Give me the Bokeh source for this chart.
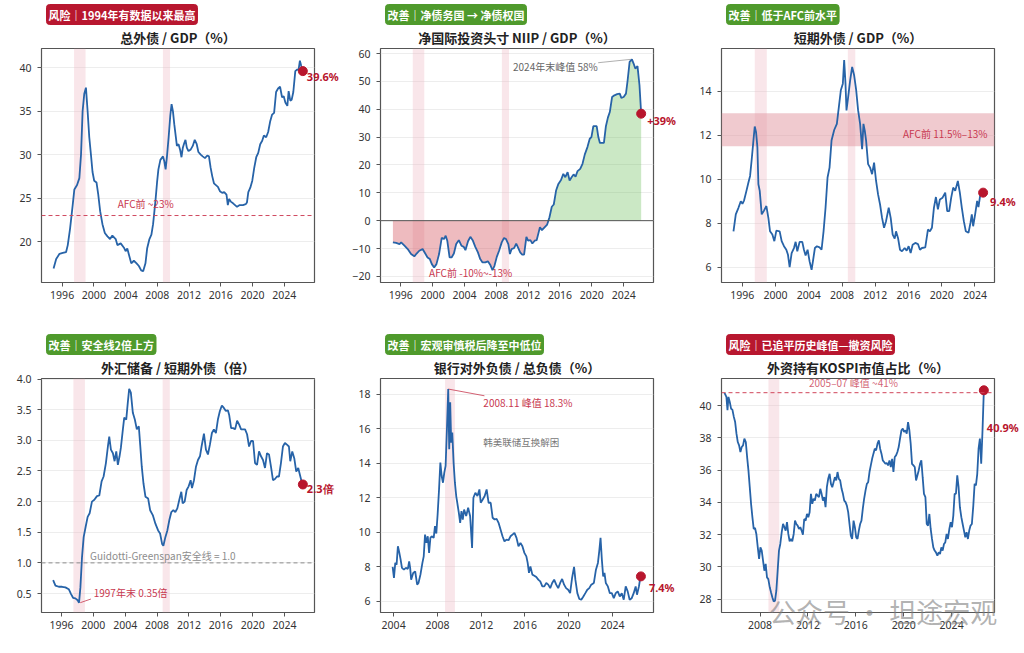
from bokeh.plotting import figure
from bokeh.models import Range1d, FixedTicker, PrintfTickFormatter, BoxAnnotation, Span, Label, Title
from bokeh.layouts import row, column
from bokeh.embed import file_html
from bokeh.resources import INLINE

# ---------------- data ----------------
CRISES = [(1997.5, 1998.95), (2008.7, 2009.6)]

# 1 total external debt / GDP (%)
ted_x = [1994.92, 1995.25, 1995.67, 1996.08, 1996.5, 1996.71, 1997.0, 1997.33, 1997.54, 1997.88,
         1998.17, 1998.38, 1998.58, 1998.79, 1999.0, 1999.21, 1999.42, 1999.63, 1999.83, 2000.04,
         2000.33, 2000.54, 2000.79, 2001.08, 2001.38, 2001.71, 2002.04, 2002.33, 2002.75, 2002.96,
         2003.38, 2003.79, 2004.0, 2004.21, 2004.42, 2004.71, 2005.04, 2005.38, 2005.67, 2005.96,
         2006.21, 2006.5, 2006.71, 2007.0, 2007.25, 2007.46, 2007.63, 2007.79, 2007.96, 2008.13,
         2008.38, 2008.71, 2008.88, 2009.04, 2009.21, 2009.42, 2009.63, 2009.79, 2009.96, 2010.13,
         2010.33, 2010.46, 2010.67, 2010.88, 2011.04, 2011.21, 2011.38, 2011.54, 2011.71, 2011.92,
         2012.21, 2012.46, 2012.71, 2012.96, 2013.17, 2013.46, 2013.71, 2014.0, 2014.29, 2014.5,
         2014.71, 2014.92, 2015.13, 2015.38, 2015.63, 2015.88, 2016.17, 2016.42, 2016.71, 2016.88,
         2017.04, 2017.25, 2017.54, 2017.79, 2018.04, 2018.38, 2018.79, 2019.13, 2019.29, 2019.46,
         2019.71, 2019.96, 2020.21, 2020.46, 2020.71, 2020.96, 2021.21, 2021.42, 2021.71, 2021.96,
         2022.21, 2022.46, 2022.71, 2022.96, 2023.21, 2023.46, 2023.71, 2023.92, 2024.13, 2024.38,
         2024.54, 2024.75, 2024.92, 2025.13, 2025.38, 2025.63, 2025.79, 2025.96, 2026.13, 2026.33]
ted_v = [16.9, 18.0, 18.6, 18.7, 18.8, 19.6, 21.5, 24.2, 26.0, 26.5,
         27.3, 30.0, 35.0, 37.0, 37.7, 35.0, 32.0, 30.0, 28.0, 27.0,
         26.8, 25.5, 23.5, 22.0, 21.0, 20.6, 20.3, 20.7, 20.3, 19.6,
         19.8, 19.3, 18.9, 19.2, 18.5, 17.5, 17.8, 17.5, 17.2, 16.7,
         16.6, 17.5, 19.2, 20.3, 20.8, 22.0, 23.5, 25.0, 26.8, 28.3,
         29.4, 29.8, 29.2, 28.3, 29.8, 32.0, 34.5, 35.8, 35.0, 33.5,
         32.0, 31.0, 31.2, 30.5, 29.7, 30.8, 31.3, 31.7, 30.8, 30.4,
         30.6, 31.0, 31.7, 31.2, 30.3, 30.0, 29.8, 29.6, 29.9, 29.8,
         28.5, 27.5, 26.7, 26.5, 26.3, 25.8, 25.6, 25.7, 25.4, 24.2,
         24.9, 24.6, 24.4, 24.2, 24.0, 24.2, 24.2, 24.3, 24.5, 25.7,
         26.2, 27.0, 28.5, 29.7, 30.2, 31.2, 31.6, 32.2, 32.0, 32.6,
         33.8, 34.6, 34.8, 37.2, 37.6, 37.8, 36.6, 36.7, 36.0, 35.6,
         37.3, 36.2, 36.3, 37.2, 39.6, 39.8, 39.7, 40.8, 40.2, 39.6]
TED_AFC = 23.0

# 2 NIIP / GDP (%)
niip_x = [1995.01, 1995.42, 1995.84, 1996.04, 1996.46, 1996.87, 1997.29, 1997.70, 1997.99, 1998.32,
          1998.74, 1999.07, 1999.36, 1999.65, 1999.90, 2000.19, 2000.48, 2000.81, 2001.14, 2001.43,
          2001.64, 2001.84, 2002.13, 2002.38, 2002.67, 2002.96, 2003.29, 2003.62, 2003.91, 2004.12,
          2004.45, 2004.74, 2005.03, 2005.36, 2005.69, 2005.98, 2006.27, 2006.61, 2006.94, 2007.23,
          2007.52, 2007.77, 2008.06, 2008.35, 2008.68, 2008.97, 2009.22, 2009.51, 2009.71, 2009.92,
          2010.25, 2010.50, 2010.75, 2011.00, 2011.25, 2011.49, 2011.78, 2011.99, 2012.28, 2012.53,
          2012.82, 2013.07, 2013.32, 2013.48, 2013.73, 2014.06, 2014.39, 2014.68, 2014.97, 2015.22,
          2015.51, 2015.80, 2016.13, 2016.42, 2016.67, 2016.96, 2017.21, 2017.46, 2017.71, 2017.96,
          2018.21, 2018.54, 2018.83, 2019.12, 2019.45, 2019.74, 2019.95, 2020.19, 2020.61, 2020.82,
          2021.02, 2021.52, 2021.77, 2022.02, 2022.26, 2022.55, 2022.84, 2023.18, 2023.51, 2023.71,
          2024.00, 2024.29, 2024.50, 2024.75, 2025.04, 2025.25, 2025.46, 2025.74, 2025.99, 2026.20]
niip_v = [-7.8, -8.0, -8.4, -7.8, -9.0, -10.2, -12.0, -12.8, -11.8, -10.8,
          -10.2, -11.8, -13.2, -13.8, -15.6, -16.8, -15.6, -12.0, -6.2, -6.6,
          -5.4, -7.2, -13.2, -13.2, -11.8, -8.4, -7.0, -9.0, -9.4, -10.6,
          -7.4, -5.8, -7.0, -9.4, -11.4, -13.8, -15.0, -15.0, -14.6, -15.8,
          -17.8, -16.2, -13.0, -10.8, -7.8, -6.2, -6.6, -8.4, -12.0, -10.2,
          -9.8, -8.2, -9.8, -11.4, -12.2, -12.2, -5.8, -7.2, -7.0, -8.2,
          -7.2, -7.0, -4.2, -2.4, -3.4, -2.4, -1.4, 1.2, 5.0, 5.8,
          10.8, 13.2, 14.6, 16.8, 15.6, 17.4, 14.4, 15.6, 16.6, 15.8,
          17.8, 18.6, 20.4, 23.8, 26.4, 29.4, 30.0, 33.9, 33.9, 30.0,
          27.9, 27.9, 33.9, 37.0, 39.0, 44.4, 45.0, 45.4, 45.6, 44.1,
          44.4, 45.6, 50.4, 57.0, 57.9, 56.4, 54.6, 55.5, 48.6, 38.4]

# 3 short-term external debt / GDP (%)
std_x = [1994.94, 1995.22, 1995.54, 1995.82, 1996.02, 1996.22, 1996.50, 1996.74, 1996.94, 1997.14,
         1997.34, 1997.50, 1997.66, 1997.82, 1997.94, 1998.10, 1998.34, 1998.58, 1998.90, 1999.14,
         1999.34, 1999.62, 1999.86, 2000.10, 2000.50, 2000.74, 2001.02, 2001.30, 2001.50, 2001.70,
         2001.94, 2002.22, 2002.42, 2002.62, 2002.90, 2003.22, 2003.42, 2003.62, 2003.86, 2004.10,
         2004.34, 2004.50, 2004.74, 2004.98, 2005.30, 2005.54, 2005.78, 2006.02, 2006.26, 2006.50,
         2006.74, 2007.06, 2007.38, 2007.62, 2007.86, 2008.10, 2008.26, 2008.42, 2008.54, 2008.74,
         2008.98, 2009.22, 2009.46, 2009.70, 2009.94, 2010.18, 2010.42, 2010.58, 2010.74, 2010.90,
         2011.14, 2011.38, 2011.62, 2011.86, 2012.10, 2012.34, 2012.58, 2012.82, 2013.06, 2013.30,
         2013.62, 2013.86, 2014.10, 2014.34, 2014.50, 2014.74, 2014.98, 2015.22, 2015.54, 2015.78,
         2016.02, 2016.26, 2016.50, 2016.82, 2017.14, 2017.38, 2017.62, 2018.02, 2018.34, 2018.58,
         2018.82, 2019.06, 2019.30, 2019.54, 2019.78, 2020.10, 2020.42, 2020.66, 2020.90, 2021.14,
         2021.38, 2021.62, 2021.94, 2022.18, 2022.42, 2022.66, 2022.90, 2023.22, 2023.46, 2023.62,
         2023.78, 2024.02, 2024.26, 2024.42, 2024.66, 2024.98]
std_v = [7.63, 8.40, 8.70, 9.00, 8.88, 9.04, 9.47, 9.85, 10.15, 10.92,
         11.76, 12.40, 12.14, 11.45, 9.77, 9.47, 8.40, 8.55, 8.78, 8.24,
         7.63, 7.48, 7.18, 7.66, 7.63, 7.18, 6.95, 6.79, 6.56, 6.00,
         6.64, 6.87, 7.15, 6.72, 7.15, 7.15, 6.79, 6.53, 6.79, 6.26,
         5.88, 6.26, 6.87, 6.95, 6.90, 6.79, 7.63, 8.70, 10.08, 10.53,
         11.76, 12.24, 12.52, 13.28, 14.05, 14.35, 15.42, 14.35, 13.13, 13.74,
         14.50, 15.11, 14.73, 14.08, 13.13, 12.52, 11.37, 12.52, 12.21, 11.76,
         10.69, 10.53, 10.23, 10.76, 9.92, 9.31, 8.85, 8.24, 7.79, 8.09,
         8.70, 8.24, 7.48, 7.30, 7.63, 7.33, 6.79, 6.72, 6.87, 6.75,
         6.95, 6.64, 7.02, 7.10, 7.05, 6.79, 6.87, 6.90, 7.71, 7.63,
         7.79, 8.70, 9.19, 8.63, 9.08, 9.16, 9.39, 8.55, 8.55, 9.16,
         9.62, 9.47, 9.92, 9.39, 8.70, 8.09, 7.63, 7.56, 8.02, 8.40,
         7.86, 8.40, 9.01, 8.73, 9.34, 9.39]
STD_BAND = (11.5, 13.0)

# 4 FX reserves / short-term external debt (x)
res_x = [1994.96, 1995.25, 1995.67, 1996.08, 1996.5, 1996.92, 1997.21, 1997.46, 1997.75, 1998.04,
         1998.21, 1998.38, 1998.58, 1998.79, 1999.04, 1999.29, 1999.54, 1999.83, 2000.13, 2000.46,
         2000.75, 2001.04, 2001.29, 2001.58, 2001.83, 2002.0, 2002.21, 2002.46, 2002.67, 2002.88,
         2003.08, 2003.29, 2003.46, 2003.71, 2003.88, 2004.13, 2004.33, 2004.5, 2004.71, 2004.96,
         2005.21, 2005.46, 2005.71, 2005.88, 2006.08, 2006.29, 2006.54, 2006.88, 2007.13, 2007.46,
         2007.79, 2008.13, 2008.38, 2008.63, 2008.79, 2009.04, 2009.29, 2009.54, 2009.79, 2010.04,
         2010.29, 2010.54, 2010.79, 2011.04, 2011.21, 2011.46, 2011.71, 2011.96, 2012.21, 2012.38,
         2012.63, 2012.88, 2013.13, 2013.38, 2013.58, 2013.88, 2014.13, 2014.38, 2014.63, 2014.88,
         2015.13, 2015.38, 2015.63, 2015.88, 2016.13, 2016.38, 2016.63, 2016.88, 2017.04, 2017.29,
         2017.54, 2017.79, 2018.04, 2018.29, 2018.54, 2018.79, 2019.04, 2019.29, 2019.54, 2019.79,
         2020.04, 2020.29, 2020.54, 2020.79, 2021.04, 2021.29, 2021.54, 2021.79, 2022.04, 2022.29,
         2022.54, 2022.79, 2023.04, 2023.29, 2023.54, 2023.79, 2024.04, 2024.29, 2024.54, 2024.71,
         2024.96, 2025.21, 2025.46, 2025.71, 2025.88, 2026.13, 2026.29]
res_v = [0.72, 0.63, 0.61, 0.61, 0.60, 0.57, 0.49, 0.43, 0.42, 0.39,
         0.35, 0.60, 1.09, 1.42, 1.59, 1.75, 1.81, 2.00, 2.03, 2.09,
         2.10, 2.33, 2.41, 2.63, 2.90, 3.06, 2.85, 2.79, 2.66, 2.82,
         2.60, 2.74, 2.88, 3.18, 3.37, 3.34, 3.62, 3.84, 3.78, 3.45,
         3.34, 3.18, 3.23, 2.93, 2.57, 2.30, 2.08, 2.05, 1.86, 1.78,
         1.64, 1.53, 1.48, 1.31, 1.28, 1.42, 1.53, 1.70, 1.83, 1.86,
         1.83, 1.89, 2.03, 2.16, 1.97, 2.00, 2.19, 2.25, 2.35, 2.22,
         2.35, 2.57, 2.68, 2.74, 2.90, 3.11, 2.85, 2.77, 2.93, 3.12,
         3.18, 3.12, 3.34, 3.48, 3.57, 3.53, 3.48, 3.49, 3.42, 3.20,
         3.20, 3.18, 3.32, 3.26, 3.18, 3.18, 3.18, 3.10, 2.90, 2.99,
         2.99, 2.63, 2.60, 2.82, 2.74, 2.68, 2.55, 2.79, 2.77, 2.57,
         2.35, 2.37, 2.41, 2.41, 2.63, 2.90, 2.96, 2.93, 2.90, 2.66,
         2.82, 2.71, 2.49, 2.55, 2.46, 2.33, 2.28]
RES_SAFE = 1.0

# 5 bank external liabilities / total liabilities (%)
bank_x = [2003.91, 2004.03, 2004.15, 2004.27, 2004.39, 2004.51, 2004.64, 2004.76, 2004.94, 2005.12,
          2005.30, 2005.42, 2005.51, 2005.60, 2005.79, 2005.97, 2006.15, 2006.27, 2006.45, 2006.63,
          2006.75, 2006.87, 2007.00, 2007.12, 2007.24, 2007.36, 2007.48, 2007.66, 2007.78, 2007.90,
          2008.02, 2008.15, 2008.27, 2008.39, 2008.51, 2008.63, 2008.75, 2008.87, 2008.99, 2009.08,
          2009.17, 2009.26, 2009.36, 2009.48, 2009.60, 2009.72, 2009.84, 2009.96, 2010.08, 2010.20,
          2010.32, 2010.44, 2010.63, 2010.81, 2010.99, 2011.17, 2011.29, 2011.47, 2011.66, 2011.84,
          2011.96, 2012.14, 2012.32, 2012.50, 2012.68, 2012.87, 2013.05, 2013.23, 2013.41, 2013.59,
          2013.77, 2013.95, 2014.13, 2014.32, 2014.50, 2014.68, 2014.86, 2015.04, 2015.23, 2015.41,
          2015.59, 2015.77, 2015.95, 2016.13, 2016.25, 2016.37, 2016.50, 2016.68, 2016.86, 2017.04,
          2017.22, 2017.40, 2017.59, 2017.77, 2017.95, 2018.13, 2018.31, 2018.49, 2018.67, 2018.86,
          2019.04, 2019.22, 2019.40, 2019.58, 2019.76, 2019.95, 2020.13, 2020.31, 2020.49, 2020.61,
          2020.79, 2020.97, 2021.15, 2021.34, 2021.52, 2021.70, 2021.88, 2022.06, 2022.30, 2022.49,
          2022.67, 2022.79, 2022.91, 2023.03, 2023.15, 2023.27, 2023.39, 2023.58, 2023.76, 2023.94,
          2024.12, 2024.30, 2024.48, 2024.67, 2024.85, 2025.03, 2025.21, 2025.39, 2025.57, 2025.76,
          2025.94, 2026.12, 2026.24, 2026.42, 2026.54, 2026.60]
bank_v = [8.0, 7.36, 8.23, 8.13, 9.19, 8.85, 8.42, 7.94, 7.84, 7.94,
          7.88, 8.32, 7.94, 7.26, 7.65, 7.74, 6.97, 7.07, 7.55, 8.23,
          8.61, 9.87, 9.39, 9.77, 8.81, 9.68, 9.77, 9.68, 10.36, 9.93,
          11.03, 12.48, 14.03, 13.26, 12.87, 13.45, 13.84, 15.97, 18.29, 14.81,
          17.52, 15.19, 15.77, 14.03, 12.87, 12.10, 11.61, 11.13, 10.55, 11.23,
          10.74, 11.32, 10.94, 11.42, 10.94, 9.10, 12.0, 12.29, 12.10, 12.48,
          11.71, 11.90, 12.10, 12.48, 11.71, 11.71, 10.84, 10.74, 10.78, 10.55,
          10.16, 9.77, 9.48, 9.58, 9.54, 9.77, 9.87, 9.97, 9.68, 9.19,
          9.39, 9.19, 8.81, 8.61, 8.23, 7.65, 8.03, 7.55, 7.49, 7.41,
          7.26, 7.16, 6.87, 6.87, 7.07, 6.97, 6.77, 7.07, 7.26, 6.97,
          6.77, 7.07, 7.30, 6.97, 6.77, 6.68, 6.48, 7.36, 8.0, 7.26,
          6.48, 6.14, 6.10, 6.29, 6.48, 6.68, 6.77, 6.97, 7.07, 7.84,
          8.23, 8.90, 9.68, 8.42, 7.45, 7.65, 7.07, 6.87, 6.48, 6.48,
          6.19, 6.48, 6.58, 6.29, 6.48, 6.10, 6.87, 6.58, 6.10, 6.19,
          6.48, 6.87, 6.39, 6.87, 7.36, 7.45]

# 6 foreign share of KOSPI market cap (%)
kospi_x = [2005.03, 2005.19, 2005.28, 2005.36, 2005.47, 2005.58, 2005.69, 2005.81, 2005.92, 2006.03,
           2006.14, 2006.25, 2006.36, 2006.47, 2006.58, 2006.69, 2006.81, 2006.92, 2007.03, 2007.14,
           2007.25, 2007.36, 2007.47, 2007.58, 2007.69, 2007.81, 2007.92, 2008.03, 2008.14, 2008.25,
           2008.36, 2008.47, 2008.58, 2008.69, 2008.81, 2008.92, 2009.03, 2009.14, 2009.25, 2009.36,
           2009.47, 2009.58, 2009.69, 2009.81, 2009.92, 2010.03, 2010.14, 2010.25, 2010.36, 2010.47,
           2010.58, 2010.69, 2010.81, 2010.92, 2011.03, 2011.14, 2011.25, 2011.36, 2011.47, 2011.58,
           2011.69, 2011.81, 2011.92, 2012.03, 2012.14, 2012.25, 2012.36, 2012.47, 2012.58, 2012.69,
           2012.81, 2012.92, 2013.03, 2013.14, 2013.25, 2013.36, 2013.47, 2013.58, 2013.69, 2013.81,
           2013.92, 2014.03, 2014.14, 2014.25, 2014.36, 2014.47, 2014.58, 2014.69, 2014.81, 2014.92,
           2015.03, 2015.14, 2015.25, 2015.36, 2015.47, 2015.58, 2015.69, 2015.81, 2015.92, 2016.03,
           2016.14, 2016.25, 2016.36, 2016.47, 2016.58, 2016.69, 2016.81, 2016.92, 2017.03, 2017.14,
           2017.25, 2017.36, 2017.47, 2017.58, 2017.69, 2017.81, 2017.92, 2018.03, 2018.14, 2018.25,
           2018.36, 2018.47, 2018.58, 2018.69, 2018.81, 2018.92, 2019.03, 2019.14, 2019.25, 2019.36,
           2019.47, 2019.58, 2019.69, 2019.81, 2019.92, 2020.03, 2020.14, 2020.25, 2020.36, 2020.47,
           2020.58, 2020.69, 2020.81, 2020.92, 2021.03, 2021.14, 2021.25, 2021.36, 2021.47, 2021.58,
           2021.69, 2021.81, 2021.92, 2022.03, 2022.14, 2022.25, 2022.36, 2022.47, 2022.58, 2022.69,
           2022.81, 2022.92, 2023.03, 2023.14, 2023.25, 2023.36, 2023.47, 2023.58, 2023.69, 2023.81,
           2023.92, 2024.03, 2024.14, 2024.25, 2024.36, 2024.47, 2024.58, 2024.69, 2024.81, 2024.92,
           2025.03, 2025.14, 2025.25, 2025.36, 2025.47, 2025.58, 2025.69, 2025.81, 2025.92, 2026.03,
           2026.14, 2026.25, 2026.36, 2026.47, 2026.58, 2026.69]
kospi_v = [40.79, 40.54, 39.71, 40.54, 40.23, 39.81, 39.75, 39.30, 38.98, 38.26,
           37.74, 37.53, 37.12, 37.43, 37.53, 37.95, 37.74, 36.81, 35.98, 34.94,
           33.91, 33.08, 32.35, 32.41, 32.04, 31.21, 30.49, 31.21, 31.01, 30.38,
           29.76, 30.18, 29.35, 29.24, 28.73, 28.41, 28.10, 27.85, 27.90, 28.52,
           29.76, 31.01, 31.42, 32.15, 32.66, 32.46, 32.25, 32.77, 32.04, 31.59,
           31.73, 31.59, 32.04, 32.87, 32.66, 32.56, 32.35, 32.46, 32.25, 32.00,
           32.97, 32.87, 33.28, 33.08, 33.39, 34.53, 33.91, 34.22, 34.11, 34.53,
           34.42, 34.32, 34.84, 34.53, 34.11, 34.32, 33.70, 34.94, 35.46, 35.77,
           35.15, 34.94, 35.25, 35.56, 35.36, 35.88, 35.46, 35.36, 34.84, 34.53,
           34.11, 34.01, 33.80, 33.39, 32.66, 31.94, 31.73, 32.87, 32.46, 31.83,
           31.73, 32.25, 32.66, 32.87, 33.60, 34.22, 34.74, 35.15, 35.25, 35.88,
           36.29, 36.70, 37.02, 37.33, 37.22, 37.64, 37.84, 37.33, 37.02, 36.60,
           36.50, 36.39, 36.44, 36.29, 36.60, 36.19, 36.70, 35.88, 36.81, 36.91,
           37.12, 37.43, 37.95, 38.47, 38.57, 38.36, 38.47, 38.26, 38.98, 38.47,
           37.64, 36.39, 36.29, 36.19, 35.36, 35.67, 35.98, 36.39, 36.60, 35.56,
           34.53, 34.32, 32.66, 32.56, 33.28, 32.35, 31.73, 31.21, 31.01, 30.90,
           30.69, 30.90, 30.80, 31.21, 31.01, 31.42, 31.52, 32.04, 31.73, 32.35,
           32.77, 32.46, 33.18, 34.53, 34.53, 35.67, 34.94, 33.70, 33.08, 32.66,
           32.25, 31.83, 32.15, 31.73, 32.25, 32.56, 32.66, 33.80, 35.15, 35.05,
           35.77, 37.33, 37.95, 36.39, 38.47, 40.95]
KOSPI_PEAK = 40.8

ticks_9624 = [1996, 2000, 2004, 2008, 2012, 2016, 2020, 2024]
ticks_0424 = [2004, 2008, 2012, 2016, 2020, 2024]
ticks_0824 = [2008, 2012, 2016, 2020, 2024]

# ---------------- style ----------------
FONT = "Noto Sans CJK SC"
NUMFONT = "Noto Sans"
BLUE = "#2763a8"
DOT = "#b8162d"
ANN = "#c8384f"
TAG_RED = "#b8172f"
TAG_GREEN = "#4f9a2c"
FW, FH = 273, 234


def make(title, tag, tagc, xr, yr, xticks, yticks, left, right, bottom, yfmt=None):
    p = figure(title=None, frame_width=FW, frame_height=FH,
               x_range=Range1d(*xr), y_range=Range1d(*yr),
               output_backend="svg", toolbar_location=None,
               min_border_left=left, min_border_right=right,
               min_border_top=48, min_border_bottom=bottom)
    p.add_layout(Title(text=title, align="center", text_font=FONT, text_font_size="13px",
                       text_font_style="bold", text_color="#222222", text_line_height=0.8,
                       standoff=3), "above")
    p.add_layout(Title(text=tag, align="left", offset=5, text_font=FONT, text_font_size="11px",
                       text_font_style="bold", text_color="white", background_fill_color=tagc,
                       border_line_color=tagc, text_line_height=1.0, padding=2,
                       border_radius=3, standoff=0), "above")
    p.xaxis.ticker = FixedTicker(ticks=xticks)
    p.yaxis.ticker = FixedTicker(ticks=yticks)
    if yfmt:
        p.yaxis.formatter = PrintfTickFormatter(format=yfmt)
    for ax in (p.xaxis, p.yaxis):
        ax.axis_line_color = None
        ax.major_tick_line_color = "#555555"
        ax.major_tick_in = 0
        ax.major_tick_out = 4
        ax.minor_tick_line_color = None
        ax.major_label_text_font = NUMFONT
        ax.major_label_text_font_size = "10.5px"
        ax.major_label_text_color = "#333333"
    p.xaxis.major_label_standoff = 4
    p.yaxis.major_label_standoff = 6
    p.xgrid.grid_line_color = None
    p.ygrid.grid_line_color = "#e8e8e8"
    p.ygrid.grid_line_width = 0.8
    p.outline_line_color = "#555555"
    p.outline_line_width = 1.2
    p.background_fill_color = "white"
    for a, b in CRISES:
        p.add_layout(BoxAnnotation(left=a, right=b, fill_color="#efb8c2", fill_alpha=0.35,
                                   line_color=None, level="underlay"))
    return p


def note(p, x, y, text, color=ANN, size="10px", align="left", alpha=1.0, place=None, dy=0):
    lab = Label(x=x, y=y, text=text, text_font=FONT, text_font_size=size, y_offset=dy,
                text_color=color, text_alpha=alpha, text_align=align,
                text_baseline="middle")
    if place:
        p.add_layout(lab, place)
    else:
        p.add_layout(lab)


def finish(p, xs, ys, text, dx, dy):
    p.line(xs, ys, line_color=BLUE, line_width=1.8)
    p.scatter([xs[-1]], [ys[-1]], size=9, color=DOT)
    # placed in the right side panel so that it is not clipped by the frame
    p.add_layout(Label(x=xs[-1], y=ys[-1], text=text, x_offset=dx, y_offset=dy,
                       text_font=NUMFONT, text_font_size="11px", text_font_style="bold",
                       text_color=DOT, text_baseline="middle"), "right")


# panel 1
p1 = make("总外债 / GDP（%）", "风险｜1994年有数据以来最高", TAG_RED,
          (1993.4, 2027.8), (15.3, 42.2), ticks_9624, [20, 25, 30, 35, 40], 41, 33, 48)
p1.add_layout(Span(location=TED_AFC, dimension="width", line_color="#d04a60",
                   line_dash="4 3", line_width=1))
note(p1, 2003.0, 24.35, "AFC前 ~23%")
finish(p1, ted_x, ted_v, "39.6%", 4, -5)

# panel 2
p2 = make("净国际投资头寸 NIIP / GDP（%）", "改善｜净债务国 → 净债权国", TAG_GREEN,
          (1993.45, 2027.75), (-22.2, 61.8), ticks_9624, [-20, -10, 0, 10, 20, 30, 40, 50, 60],
          33, 35, 48)
zeros = [0.0 for _ in niip_v]
p2.varea(x=niip_x, y1=[min(v, 0.0) for v in niip_v], y2=zeros, fill_color="#d4545f", fill_alpha=0.4)
p2.varea(x=niip_x, y1=zeros, y2=[max(v, 0.0) for v in niip_v], fill_color="#5cb84c", fill_alpha=0.32)
p2.add_layout(Span(location=0, dimension="width", line_color="#555555", line_width=1))
ipk = niip_v.index(max(niip_v))
p2.line([2020.8, niip_x[ipk] - 0.15], [56.7, niip_v[ipk]], line_color="#9a9a9a", line_width=0.8)
note(p2, 2010.1, 55.2, "2024年末峰值 58%", color="#666666")
note(p2, 1999.55, -18.6, "AFC前 -10%~-13%")
finish(p2, niip_x, niip_v, "+39%", 6, -7)

# panel 3
p3 = make("短期外债 / GDP（%）", "改善｜低于AFC前水平", TAG_GREEN,
          (1993.5, 2026.35), (5.3, 15.95), ticks_9624, [6, 8, 10, 12, 14], 33, 26, 48)
p3.add_layout(BoxAnnotation(bottom=STD_BAND[0], top=STD_BAND[1], fill_color="#e195a0",
                            fill_alpha=0.5, line_color=None, level="underlay"))
note(p3, 2025.5, 12.1, "AFC前 11.5%–13%", align="right")
finish(p3, std_x, std_v, "9.4%", 7, -9)

# panel 4
p4 = make("外汇储备 / 短期外债（倍）", "改善｜安全线2倍上方", TAG_GREEN,
          (1993.5, 2027.75), (0.19, 4.01), ticks_9624, [0.5, 1.0, 1.5, 2.0, 2.5, 3.0, 3.5, 4.0],
          41, 33, 30, yfmt="%.1f")
p4.add_layout(Span(location=RES_SAFE, dimension="width", line_color="#8c8c8c",
                   line_dash="4 3", line_width=1))
note(p4, 1999.6, 1.12, "Guidotti-Greenspan安全线 = 1.0", color="#8c8c8c")
imin = res_v.index(min(res_v))
p4.line([res_x[imin] + 0.15, 1999.7], [res_v[imin], 0.41], line_color=ANN, line_width=0.8)
note(p4, 2000.05, 0.51, "1997年末 0.35倍")
finish(p4, res_x, res_v, "2.3倍", 4, -4)

# panel 5
p5 = make("银行对外负债 / 总负债（%）", "改善｜宏观审慎税后降至中低位", TAG_GREEN,
          (2002.8, 2027.75), (5.36, 18.9), ticks_0424, [6, 8, 10, 12, 14, 16, 18], 33, 35, 30)
ibk = bank_v.index(max(bank_v))
p5.line([bank_x[ibk], 2012.3], [bank_v[ibk], 17.9], line_color=ANN, line_width=0.8)
note(p5, 2012.2, 17.5, "2008.11 峰值 18.3%")
note(p5, 2012.2, 15.23, "韩美联储互换解困", color="#777777", size="9.5px")
finish(p5, bank_x, bank_v, "7.4%", 8, -11)

# panel 6
p6 = make("外资持有KOSPI市值占比（%）", "风险｜已追平历史峰值—撤资风险", TAG_RED,
          (2004.78, 2027.58), (27.17, 41.68), ticks_0824, [28, 30, 32, 34, 36, 38, 40], 33, 26, 30)
p6.add_layout(Span(location=KOSPI_PEAK, dimension="width", line_color="#d0455a",
                   line_dash="4 3", line_width=1))
note(p6, 2015.8, 41.42, "2005–07 峰值 ~41%", align="center", alpha=0.8)
finish(p6, kospi_x, kospi_v, "40.9%", 3, -37)
note(p6, 2008.75, 27.1, "公众号 · 坦途宏观", color="#808080", size="27px", alpha=0.6,
     place="below", dy=2)

layout = column(row(p1, p2, p3), row(p4, p5, p6))
open("out.html", "w").write(file_html(layout, INLINE))
